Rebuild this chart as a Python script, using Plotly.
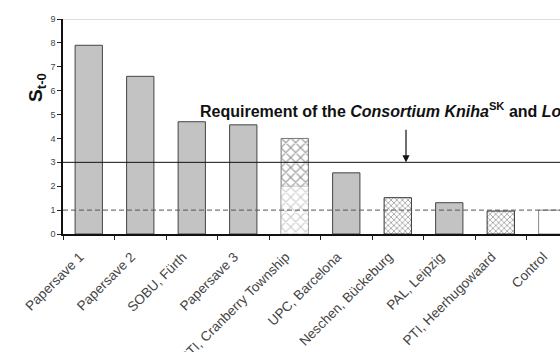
import plotly.graph_objects as go

categories = ["Papersave 1", "Papersave 2", "SOBU, Fürth", "Papersave 3",
              "PTI, Cranberry Township", "UPC, Barcelona", "Neschen, Bückeburg",
              "PAL, Leipzig", "PTI, Heerhugowaard", "Control"]
values = [7.9, 6.6, 4.7, 4.57, 4.0, 2.56, 1.52, 1.31, 0.96, 1.0]
cranberry_lower = [None, None, None, None, 2.0, None, None, None, None, None]
requirement_level = 3
control_level = 1
y_ticks = [0, 1, 2, 3, 4, 5, 6, 7, 8, 9]

# style groups per bar: "grey", "hex" (coarse crosshatch), "fine" (fine crosshatch), "white"
groups = ["grey", "grey", "grey", "grey", "hex", "grey", "fine", "grey", "fine", "white"]

font = "Arial, Liberation Sans, sans-serif"

styles = {
    "grey": dict(color="#c3c3c3", line=dict(color="#444", width=1)),
    "white": dict(color="#ffffff", line=dict(color="#888", width=1)),
    "hex": dict(color="#ffffff", line=dict(color="#777", width=1),
                pattern=dict(shape="x", fgcolor="#222", bgcolor="#ffffff",
                             size=7, solidity=0.3)),
    "fine": dict(color="#ffffff", line=dict(color="#333", width=1),
                 pattern=dict(shape="x", fgcolor="#333", bgcolor="#ffffff",
                              size=4, solidity=0.35)),
}

fig = go.Figure()
for g in ["grey", "white", "hex", "fine"]:
    ys = [v if gg == g else None for v, gg in zip(values, groups)]
    fig.add_trace(go.Bar(x=categories, y=ys, marker=styles[g],
                         showlegend=False, hoverinfo="skip"))
fig.add_trace(go.Bar(
    x=categories, y=cranberry_lower,
    marker=dict(color="#ffffff", line=dict(color="#999", width=0.5),
                pattern=dict(shape="x", fgcolor="#999999", bgcolor="#ffffff",
                             size=7, solidity=0.3)),
    showlegend=False, hoverinfo="skip"))

fig.update_layout(
    width=560, height=352,
    margin=dict(l=63, r=0, t=19, b=118, autoexpand=False),
    paper_bgcolor="white", plot_bgcolor="white",
    barmode="overlay", bargap=0.47,
    font=dict(family=font, color="#333"),
    xaxis=dict(type="category", range=[-0.5, 9.15], tickangle=-45,
               tickson="boundaries", ticks="outside", ticklen=4, tickcolor="#222",
               showline=True, linecolor="#111", linewidth=1.5, showgrid=False,
               automargin=False, ticklabelshift=-9, ticklabelstandoff=8,
               tickfont=dict(size=13.5, color="#444"), fixedrange=True),
    yaxis=dict(range=[0, 9], tickvals=y_ticks, ticks="outside", ticklen=4,
               tickcolor="#222", showline=True, linecolor="#111", linewidth=1.5,
               showgrid=False, zeroline=False, automargin=False,
               tickfont=dict(size=9, color="#444"), fixedrange=True),
)

# top border at 9
fig.add_shape(type="line", xref="paper", yref="y", x0=0, x1=1, y0=9, y1=9,
              line=dict(color="#bbbbbb", width=1))
# requirement line
fig.add_shape(type="line", xref="paper", yref="y", x0=0, x1=1,
              y0=requirement_level, y1=requirement_level,
              line=dict(color="#111", width=1))
# control dashed line
fig.add_shape(type="line", xref="paper", yref="y", x0=0, x1=1,
              y0=control_level, y1=control_level,
              line=dict(color="#555", width=1, dash="5px,3px"))

fig.add_annotation(xref="x", yref="y", x=6.16, y=requirement_level, ax=0, ay=-34,
                   text="", showarrow=True, arrowhead=2, arrowsize=1.2,
                   arrowwidth=1.2, arrowcolor="#111")
fig.add_annotation(xref="paper", yref="y", x=0.272, y=5.2, xanchor="left",
                   yanchor="middle", showarrow=False,
                   text="<b>Requirement of the <i>Consortium Kniha</i><sup>SK</sup> and <i>LoC</i></b>",
                   font=dict(size=16, color="#111", family=font))
fig.add_annotation(xref="paper", yref="paper", x=-0.052, y=0.68, textangle=-90,
                   xanchor="center", yanchor="middle", showarrow=False,
                   text="<b>S<sub>t-0</sub></b>",
                   font=dict(size=19, color="#111", family=font))

fig.write_html("out.html", config={"displayModeBar": False},
               post_script="document.body.style.margin='0';")
